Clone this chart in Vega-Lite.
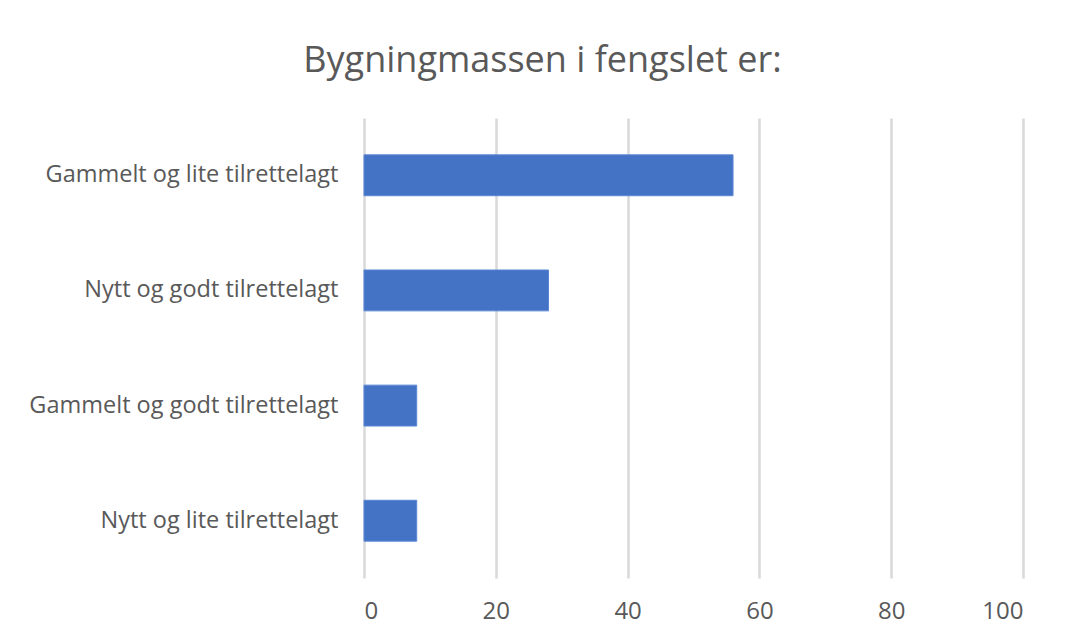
{
  "$schema": "https://vega.github.io/schema/vega-lite/v6.json",
  "autosize": "none",
  "width": 659,
  "height": 460,
  "padding": {"left": 364, "top": 118, "right": 52, "bottom": 65},
  "background": "white",
  "title": {
    "text": "Bygningmassen i fengslet er:",
    "font": "Open Sans",
    "fontSize": 36,
    "fontWeight": "normal",
    "color": "#595959",
    "anchor": "middle",
    "dx": -151,
    "offset": 38
  },
  "data": {
    "values": [
      {"kategori": "Gammelt og lite tilrettelagt", "verdi": 56},
      {"kategori": "Nytt og godt tilrettelagt", "verdi": 28},
      {"kategori": "Gammelt og godt tilrettelagt", "verdi": 8},
      {"kategori": "Nytt og lite tilrettelagt", "verdi": 8}
    ]
  },
  "mark": {"type": "bar", "color": "#4472C4", "stroke": "#5b87d6", "strokeWidth": 1},
  "encoding": {
    "y": {
      "field": "kategori",
      "type": "nominal",
      "sort": null,
      "scale": {"paddingInner": 0.645, "paddingOuter": 0.32},
      "axis": {
        "title": null,
        "domain": false,
        "ticks": false,
        "labelFont": "Open Sans",
        "labelFontSize": 23.5,
        "labelColor": "#595959",
        "labelPadding": 26,
        "labelLimit": 400
      }
    },
    "x": {
      "field": "verdi",
      "type": "quantitative",
      "scale": {"domain": [0, 100], "nice": false},
      "axis": {
        "title": null,
        "values": [0, 20, 40, 60, 80, 100],
        "domain": false,
        "ticks": false,
        "grid": true,
        "gridColor": "#d9d9d9",
        "gridWidth": 2.5,
        "labelFont": "Open Sans",
        "labelFontSize": 24,
        "labelColor": "#595959",
        "labelPadding": 21
      }
    }
  },
  "config": {"view": {"stroke": null}}
}
